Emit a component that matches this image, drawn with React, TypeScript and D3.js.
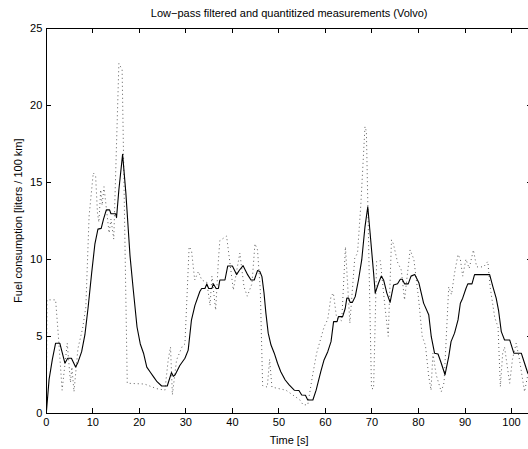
import React from "react";
import * as d3 from "d3";

const TITLE = "Low\u2212pass filtered and quantitized measurements (Volvo)";
const X_LABEL = "Time [s]";
const Y_LABEL = "Fuel consumption [liters / 100 km]";
const X_TICKS = [0, 10, 20, 30, 40, 50, 60, 70, 80, 90, 100];
const Y_TICKS = [0, 5, 10, 15, 20, 25];

// Low-pass filtered signal [time s, liters/100km]
const filtered: [number, number][] = [
  [0, 0], [0.6, 2.2], [1.3, 3.5], [2.0, 4.55], [2.9, 4.55], [4.0, 3.25], [4.6, 3.57], [5.4, 3.57],
  [6.3, 3.0], [6.8, 3.3], [7.6, 4.0], [8.3, 5.1], [9.0, 6.9], [9.75, 9.1], [10.45, 11.0], [11.1, 11.95],
  [11.8, 12.0], [12.3, 12.6], [12.9, 13.2], [13.6, 13.2], [13.9, 12.95], [14.9, 12.95], [15.1, 12.7],
  [15.6, 14.5], [16.4, 16.8], [17.1, 14.3], [18.0, 10.2], [18.7, 8.0], [19.5, 5.6], [20.2, 4.5],
  [20.9, 3.9], [21.6, 3.0], [22.4, 2.65], [23.1, 2.35], [23.8, 2.05], [24.8, 1.77], [26.0, 1.77],
  [26.9, 2.64], [27.3, 2.4], [27.7, 2.5], [28.7, 3.1], [29.8, 3.57], [30.5, 4.1], [31.2, 6.05],
  [31.95, 7.0], [33.0, 7.9], [33.4, 8.1], [34.1, 8.1], [34.5, 8.4], [34.9, 8.1], [35.6, 8.1],
  [35.9, 8.4], [36.5, 8.1], [37.0, 8.1], [37.3, 8.65], [38.4, 8.65], [39.0, 9.56], [40.0, 9.56],
  [40.9, 9.0], [41.5, 9.28], [42.3, 9.58], [43.3, 8.98], [44.0, 8.65], [44.7, 8.65], [45.4, 9.26],
  [45.9, 9.2], [46.35, 8.87], [46.8, 7.8], [47.2, 6.5], [47.7, 5.2], [48.3, 4.43], [49.0, 3.9],
  [49.7, 3.25], [50.4, 2.7], [51.35, 2.16], [52.2, 1.84], [53.3, 1.5], [54.3, 1.48], [54.9, 1.19],
  [55.7, 1.17], [56.2, 0.86], [57.3, 0.86], [58.0, 1.5], [59.0, 2.7], [59.7, 3.46], [60.5, 4.0],
  [61.2, 4.65], [61.75, 5.95], [62.5, 5.95], [62.8, 6.27], [63.7, 6.27], [64.25, 6.8], [64.6, 7.47],
  [65.0, 7.47], [65.3, 7.2], [65.8, 7.2], [66.4, 7.57], [67.1, 8.65], [67.8, 9.95], [68.5, 12.1],
  [69.1, 13.4], [69.6, 11.7], [70.35, 9.1], [70.7, 7.8], [71.4, 8.44], [72.0, 8.9], [72.5, 8.65],
  [73.2, 7.8], [73.9, 7.2], [74.65, 8.33], [75.5, 8.4], [76.1, 8.7], [76.5, 8.7], [77.0, 8.4],
  [77.8, 8.4], [78.4, 8.9], [79.2, 9.0], [80.1, 8.45], [81.1, 7.15], [82.2, 6.4], [82.75, 4.97],
  [83.45, 3.9], [84.2, 3.85], [84.9, 3.25], [85.7, 2.5], [86.5, 3.68], [87.0, 4.65], [87.75, 5.2],
  [88.5, 6.06], [89.0, 7.14], [89.5, 7.47], [90.2, 8.1], [90.6, 8.4], [91.5, 8.4], [92.05, 9.0],
  [95.3, 9.0], [96.0, 8.2], [96.7, 7.47], [97.2, 6.7], [97.8, 5.3], [98.5, 4.76], [99.6, 4.76],
  [100.5, 3.9], [102.1, 3.9], [102.8, 3.25], [103.5, 2.6], [104.4, 2.3],
];

// Quantized measurements [time s, liters/100km]
const measured: [number, number][] = [
  [0, 0], [0.15, 7.36], [2.0, 7.36], [2.6, 5.0], [3.4, 1.5], [4.5, 4.55], [5.2, 2.0], [5.5, 3.0],
  [5.95, 1.4], [6.8, 4.2], [7.8, 5.5], [8.5, 6.9], [9.2, 12.8], [10.1, 15.6], [10.6, 15.4],
  [11.0, 13.0], [11.3, 12.4], [11.7, 14.5], [12.0, 13.5], [12.4, 14.7], [12.8, 13.6], [13.5, 11.7],
  [13.9, 12.6], [14.5, 11.3], [15.6, 22.7], [16.3, 22.3], [17.4, 1.95], [21.1, 1.9], [23.7, 1.6],
  [25.5, 1.5], [26.2, 3.46], [26.7, 4.3], [27.1, 1.2], [28.0, 3.46], [29.3, 4.4], [29.8, 4.5],
  [30.7, 10.8], [31.2, 10.6], [31.9, 8.65], [32.7, 9.2], [33.4, 8.65], [34.5, 8.5], [35.2, 7.0],
  [35.6, 8.9], [36.4, 6.7], [37.0, 9.95], [37.3, 11.2], [38.75, 11.5], [40.2, 8.0], [41.6, 10.4],
  [42.5, 8.2], [43.2, 7.6], [44.2, 8.4], [44.85, 11.0], [45.4, 10.6], [46.0, 8.0], [46.5, 1.8],
  [47.5, 1.7], [48.0, 3.5], [48.5, 1.7], [51.5, 1.5], [54.5, 0.87], [55.2, 0.55], [56.2, 0.55],
  [57.2, 2.4], [58.1, 3.9], [59.7, 5.6], [60.5, 6.1], [61.2, 7.6], [61.7, 7.8], [62.4, 6.2],
  [63.5, 6.0], [64.3, 10.8], [65.25, 5.85], [66.3, 10.06], [66.9, 10.4], [67.6, 13.5], [68.5, 18.6],
  [68.8, 18.3], [69.9, 1.6], [70.35, 1.6], [71.0, 9.85], [71.8, 9.9], [72.8, 6.9], [73.5, 5.0],
  [74.2, 11.25], [74.6, 11.0], [75.5, 9.8], [76.3, 9.3], [77.0, 7.36], [78.2, 10.6], [79.0, 10.0],
  [80.0, 7.5], [80.8, 5.0], [81.5, 4.4], [82.2, 2.4], [82.7, 1.5], [83.1, 3.9], [83.8, 2.5],
  [84.9, 1.4], [85.5, 2.0], [86.5, 8.2], [87.1, 7.7], [87.75, 9.1], [88.5, 10.3], [89.0, 10.0],
  [89.5, 8.9], [90.2, 10.0], [90.9, 9.4], [91.8, 10.6], [92.5, 9.5], [94.0, 9.5], [94.9, 9.85],
  [95.4, 8.2], [96.4, 6.2], [97.1, 5.6], [97.6, 1.73], [98.1, 3.9], [98.5, 4.3], [99.6, 1.95],
  [100.2, 3.5], [101.0, 4.55], [101.7, 3.5], [102.4, 2.16], [102.8, 1.4], [103.5, 2.5], [104.4, 3.0],
];

const W = 528;
const H = 449;
const L = 46.3, R = 532, T = 28, B = 413.3;
const FONT = "'Liberation Sans', Arial, Helvetica, sans-serif";

export default function App() {
  const x = d3.scaleLinear().domain([0, 104.4]).range([L, R]);
  const y = d3.scaleLinear().domain([0, 25]).range([B, T]);
  const line = d3.line<[number, number]>().x((d) => x(d[0])).y((d) => y(d[1]));
  const tl = 5;
  return (
    <svg width={W} height={H} style={{ position: "absolute", left: 0, top: 0, background: "#fff" }}>
      <rect x={0} y={0} width={W} height={H} fill="#fff" />
      <defs>
        <clipPath id="plot">
          <rect x={L} y={T} width={R - L} height={B - T} />
        </clipPath>
      </defs>
      <g clipPath="url(#plot)">
        <path d={line(measured) || ""} fill="none" stroke="#333" strokeWidth={0.8} strokeDasharray="1 3" />
        <path d={line(filtered) || ""} fill="none" stroke="#000" strokeWidth={1.1} strokeLinejoin="round" />
      </g>
      <g stroke="#000" strokeWidth={1} fill="none" shapeRendering="crispEdges">
        <line x1={L} y1={T} x2={R} y2={T} />
        <line x1={L} y1={B} x2={R} y2={B} />
        <line x1={L} y1={T} x2={L} y2={B} />
        <line x1={R} y1={T} x2={R} y2={B} />
        {X_TICKS.map((t) => (
          <g key={"xt" + t}>
            <line x1={x(t)} y1={B} x2={x(t)} y2={B - tl} />
            <line x1={x(t)} y1={T} x2={x(t)} y2={T + tl} />
          </g>
        ))}
        {Y_TICKS.map((t) => (
          <g key={"yt" + t}>
            <line x1={L} y1={y(t)} x2={L + tl} y2={y(t)} />
            <line x1={R} y1={y(t)} x2={R - tl} y2={y(t)} />
          </g>
        ))}
      </g>
      <g fontFamily={FONT} fontSize={11} fill="#000">
        {X_TICKS.map((t) => (
          <text key={"xl" + t} x={x(t)} y={B + 13} textAnchor="middle">{t}</text>
        ))}
        {Y_TICKS.map((t) => (
          <text key={"yl" + t} x={L - 4} y={y(t) + 4} textAnchor="end">{t}</text>
        ))}
        <text x={(L + R) / 2} y={444} textAnchor="middle">{X_LABEL}</text>
        <text x={(L + R) / 2} y={17} textAnchor="middle">{TITLE}</text>
        <text transform={`translate(22,${(T + B) / 2}) rotate(-90)`} textAnchor="middle">{Y_LABEL}</text>
      </g>
    </svg>
  );
}
